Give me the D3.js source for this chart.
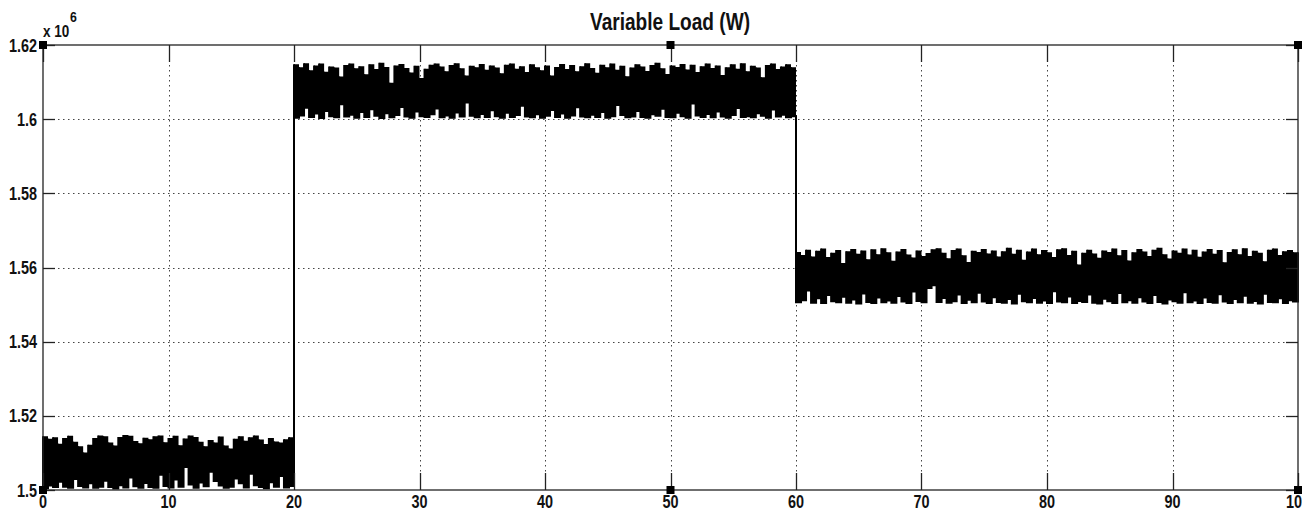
<!DOCTYPE html>
<html><head><meta charset="utf-8">
<script src="https://cdn.jsdelivr.net/npm/d3@7"></script>
<style>
html,body{margin:0;padding:0;background:#fff;}
svg{display:block;}
text{font-family:"Liberation Sans","Arial",sans-serif;font-weight:bold;fill:#111;}
</style></head>
<body>
<svg id="chart" width="1302" height="513"></svg>
<script>
// ---- data (values in units of 10^6 W) ----
const titleText = "Variable Load (W)";
const xTicks = [0,10,20,30,40,50,60,70,80,90,100];
const yTicks = [1.5,1.52,1.54,1.56,1.58,1.6,1.62];
const sampleStep = 0.4;
const segmentStarts = [0,20,60];
const seg1Upper = [1.5145,1.5138,1.5142,1.5125,1.5140,1.5146,1.5130,1.5118,1.5101,1.5122,
1.5140,1.5147,1.5145,1.5128,1.5120,1.5143,1.5148,1.5146,1.5132,1.5126,
1.5141,1.5137,1.5145,1.5147,1.5129,1.5140,1.5146,1.5121,1.5139,1.5147,
1.5143,1.5130,1.5118,1.5135,1.5128,1.5144,1.5120,1.5112,1.5138,1.5145,
1.5133,1.5142,1.5147,1.5136,1.5124,1.5140,1.5131,1.5128,1.5137,1.5142];
const seg1Lower = [1.5005,1.5012,1.5008,1.5022,1.5009,1.5006,1.5030,1.5011,1.5007,1.5018,
1.5006,1.5009,1.5025,1.5008,1.5004,1.5013,1.5007,1.5034,1.5010,1.5006,
1.5019,1.5008,1.5006,1.5041,1.5011,1.5007,1.5028,1.5009,1.5062,1.5015,
1.5006,1.5020,1.5010,1.5049,1.5024,1.5012,1.5006,1.5009,1.5031,1.5018,
1.5007,1.5044,1.5013,1.5008,1.5005,1.5021,1.5009,1.5038,1.5007,1.5011];
const seg2Upper = [1.6148,1.6140,1.6151,1.6132,1.6145,1.6150,1.6128,1.6142,1.6139,1.6115,
1.6146,1.6150,1.6137,1.6143,1.6121,1.6148,1.6135,1.6152,1.6141,1.6098,
1.6145,1.6149,1.6138,1.6126,1.6144,1.6111,1.6136,1.6147,1.6150,1.6142,
1.6129,1.6146,1.6151,1.6137,1.6118,1.6144,1.6140,1.6149,1.6133,1.6145,
1.6139,1.6124,1.6147,1.6150,1.6136,1.6143,1.6127,1.6148,1.6140,1.6132,
1.6145,1.6118,1.6141,1.6149,1.6135,1.6146,1.6129,1.6143,1.6151,1.6138,
1.6125,1.6147,1.6140,1.6150,1.6133,1.6144,1.6116,1.6139,1.6148,1.6142,
1.6130,1.6146,1.6152,1.6137,1.6122,1.6145,1.6141,1.6149,1.6134,1.6147,
1.6127,1.6143,1.6150,1.6138,1.6145,1.6119,1.6140,1.6148,1.6136,1.6151,
1.6129,1.6144,1.6139,1.6113,1.6146,1.6150,1.6135,1.6142,1.6148,1.6140];
const seg2Lower = [1.6004,1.6010,1.6031,1.6006,1.6015,1.6003,1.6022,1.6008,1.6005,1.6040,
1.6007,1.6012,1.6004,1.6019,1.6006,1.6027,1.6009,1.6003,1.6016,1.6005,
1.6011,1.6033,1.6007,1.6004,1.6021,1.6008,1.6006,1.6013,1.6029,1.6005,
1.6010,1.6004,1.6018,1.6007,1.6045,1.6009,1.6005,1.6014,1.6006,1.6024,
1.6008,1.6004,1.6017,1.6006,1.6011,1.6036,1.6007,1.6005,1.6013,1.6004,
1.6009,1.6025,1.6006,1.6015,1.6004,1.6010,1.6032,1.6007,1.6005,1.6012,
1.6006,1.6019,1.6004,1.6008,1.6038,1.6011,1.6005,1.6007,1.6022,1.6006,
1.6004,1.6013,1.6009,1.6028,1.6006,1.6005,1.6017,1.6008,1.6004,1.6042,
1.6010,1.6006,1.6014,1.6005,1.6021,1.6007,1.6004,1.6011,1.6030,1.6006,
1.6008,1.6005,1.6016,1.6009,1.6004,1.6026,1.6007,1.6012,1.6005,1.6008];
const seg3Upper = [1.5642,1.5634,1.5648,1.5630,1.5645,1.5651,1.5628,1.5640,1.5647,1.5612,
1.5644,1.5650,1.5637,1.5646,1.5622,1.5649,1.5636,1.5652,1.5641,1.5618,
1.5643,1.5650,1.5635,1.5627,1.5646,1.5631,1.5639,1.5649,1.5652,1.5640,
1.5625,1.5647,1.5651,1.5633,1.5615,1.5645,1.5642,1.5650,1.5638,1.5646,
1.5630,1.5644,1.5653,1.5637,1.5648,1.5621,1.5643,1.5651,1.5636,1.5647,
1.5641,1.5628,1.5649,1.5652,1.5634,1.5645,1.5608,1.5640,1.5648,1.5638,
1.5626,1.5646,1.5642,1.5651,1.5633,1.5647,1.5619,1.5641,1.5650,1.5643,
1.5631,1.5648,1.5653,1.5636,1.5624,1.5646,1.5640,1.5651,1.5635,1.5648,
1.5629,1.5643,1.5650,1.5637,1.5647,1.5614,1.5642,1.5649,1.5636,1.5652,
1.5631,1.5645,1.5640,1.5617,1.5648,1.5651,1.5634,1.5644,1.5647,1.5641];
const seg3Lower = [1.5506,1.5512,1.5538,1.5505,1.5517,1.5504,1.5526,1.5509,1.5506,1.5521,
1.5505,1.5514,1.5503,1.5530,1.5507,1.5504,1.5519,1.5506,1.5511,1.5505,
1.5523,1.5508,1.5504,1.5535,1.5510,1.5506,1.5545,1.5552,1.5507,1.5518,
1.5505,1.5509,1.5527,1.5504,1.5513,1.5506,1.5532,1.5508,1.5504,1.5520,
1.5507,1.5505,1.5515,1.5503,1.5529,1.5509,1.5506,1.5518,1.5505,1.5511,
1.5504,1.5536,1.5508,1.5506,1.5522,1.5504,1.5510,1.5507,1.5527,1.5505,
1.5503,1.5516,1.5509,1.5504,1.5531,1.5506,1.5512,1.5505,1.5520,1.5508,
1.5504,1.5526,1.5507,1.5503,1.5514,1.5509,1.5505,1.5533,1.5506,1.5511,
1.5504,1.5519,1.5507,1.5505,1.5528,1.5508,1.5504,1.5515,1.5506,1.5524,
1.5505,1.5510,1.5503,1.5529,1.5507,1.5506,1.5517,1.5504,1.5512,1.5508];

// ---- build samples ----
const uppers = [seg1Upper, seg2Upper, seg3Upper];
const lowers = [seg1Lower, seg2Lower, seg3Lower];
const samples = [];
segmentStarts.forEach((s, k) => {
  uppers[k].forEach((u, i) => samples.push({t: s + i * sampleStep, hi: u, lo: lowers[k][i]}));
});
const lastS = samples[samples.length - 1];
samples.push({t: 100, hi: lastS.hi, lo: lastS.lo});

// ---- layout ----
const L = 43, R = 1298, T = 45, B = 490;
const svg = d3.select("#chart");
svg.append("rect").attr("width",1302).attr("height",513).attr("fill","#fff");
const x = d3.scaleLinear().domain([0,100]).range([L,R]);
const y = d3.scaleLinear().domain([1.5,1.62]).range([B,T]);

// grid
const grid = svg.append("g").attr("stroke","#444").attr("stroke-width",1).attr("stroke-dasharray","1.5,3.5");
grid.selectAll("line.v").data(xTicks.slice(1,-1)).enter().append("line")
  .attr("x1",d=>Math.round(x(d))+0.5).attr("x2",d=>Math.round(x(d))+0.5).attr("y1",T).attr("y2",B);
grid.selectAll("line.h").data(yTicks.slice(1,-1)).enter().append("line")
  .attr("y1",d=>Math.round(y(d))+0.5).attr("y2",d=>Math.round(y(d))+0.5).attr("x1",L).attr("x2",R);

// signal band
const area = d3.area().curve(d3.curveStepAfter).x(d=>x(d.t)).y0(d=>y(d.lo)).y1(d=>y(d.hi));
svg.append("path").datum(samples).attr("d",area).attr("fill","#000");
const zig = [];
samples.forEach(d => { zig.push({t:d.t, v:d.hi}); zig.push({t:d.t, v:d.lo}); });
const line = d3.line().curve(d3.curveStepAfter).x(d=>x(d.t)).y(d=>y(d.v));
svg.append("path").datum(zig).attr("d",line).attr("fill","none").attr("stroke","#000").attr("stroke-width",2);

// axes box and ticks
const ax = svg.append("g").attr("stroke","#222").attr("stroke-width",1.3);
ax.append("rect").attr("x",L).attr("y",T).attr("width",R-L).attr("height",B-T).attr("fill","none");
const xt = 17, yt = 12;
xTicks.forEach(d => {
  const px = Math.round(x(d)) + 0.5;
  ax.append("line").attr("x1",px).attr("x2",px).attr("y1",B).attr("y2",B-xt);
  ax.append("line").attr("x1",px).attr("x2",px).attr("y1",T).attr("y2",T+xt);
});
yTicks.forEach(d => {
  const py = Math.round(y(d)) + 0.5;
  ax.append("line").attr("x1",L).attr("x2",L+yt).attr("y1",py).attr("y2",py);
  ax.append("line").attr("x1",R).attr("x2",R-yt).attr("y1",py).attr("y2",py);
});
// small square markers at axis corners and mid points
const markerX = [0,50,100], markerY = [1.5,1.62];
markerX.forEach(mx => markerY.forEach(my => {
  svg.append("rect").attr("x",x(mx)-4).attr("y",y(my)-4).attr("width",8).attr("height",8).attr("fill","#000");
}));

// condensed text helper
function ctext(parent, px, py, str, size, anchor, sx) {
  const g = parent.append("g").attr("transform", `translate(${px},${py}) scale(${sx},1)`);
  return g.append("text").attr("x",0).attr("y",0).attr("text-anchor",anchor).attr("font-size",size).text(str);
}
const fmt = d3.format("~g");
const yl = svg.append("g");
yTicks.forEach(d => ctext(yl, 37, y(d) + 6.5, fmt(d), 18.5, "end", 0.78));
const xl = svg.append("g");
xTicks.forEach(d => ctext(xl, x(d), 508, fmt(d), 18.5, "middle", 0.78));
ctext(svg, 670, 30, titleText, 23, "middle", 0.83);
ctext(svg, 43, 37, "x 10", 16.5, "start", 0.82);
ctext(svg, 70, 22, "6", 15, "start", 0.82);
</script>
</body></html>
